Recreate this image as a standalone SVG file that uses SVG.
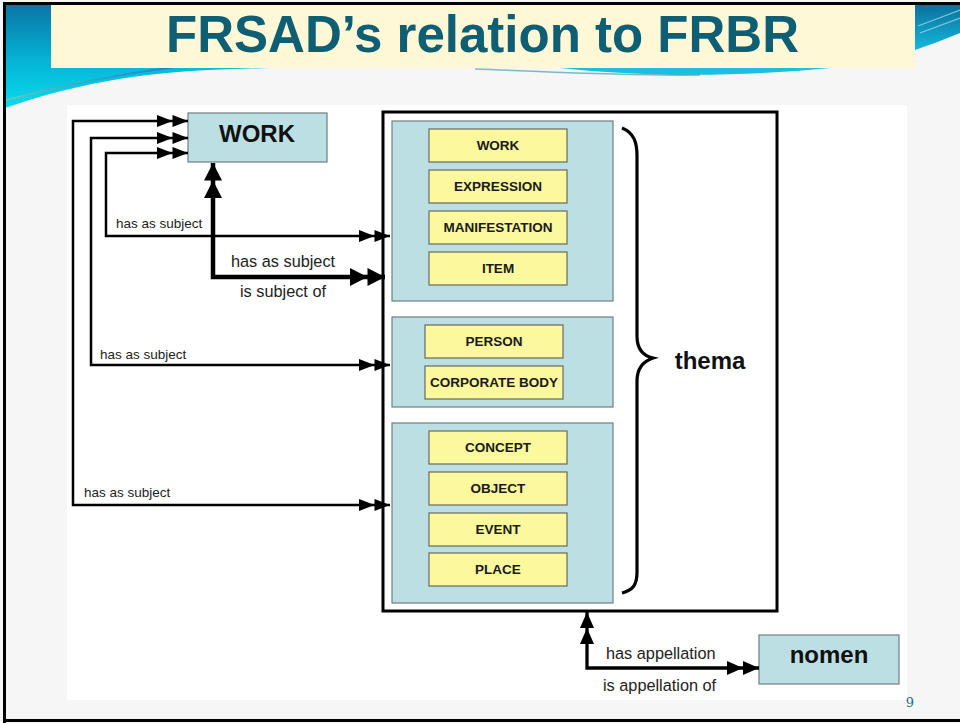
<svg xmlns="http://www.w3.org/2000/svg" width="960" height="723" viewBox="0 0 960 723">
  <style>
    .panel { fill: #bcdfe3; stroke: #6f7f82; stroke-width: 1.2; }
    .entity { fill: #fbf89d; stroke: #6a6a5a; stroke-width: 1.2; }
    .ent-label { font-family: "Liberation Sans", Arial, sans-serif; font-weight: bold; font-size: 13.5px; fill: #1a1a1a; text-anchor: middle; }
    .big-label { font-family: "Liberation Sans", Arial, sans-serif; font-weight: bold; font-size: 24px; fill: #111; text-anchor: middle; }
    .rel-s { font-family: "Liberation Sans", Arial, sans-serif; font-size: 13.5px; fill: #222; }
    .rel-l { font-family: "Liberation Sans", Arial, sans-serif; font-size: 16.3px; fill: #222; }
    .thin { fill: none; stroke: #000; stroke-width: 2.5; stroke-linejoin: miter; }
    .thick { fill: none; stroke: #000; stroke-width: 4.5; stroke-linejoin: miter; }
    .mid { fill: none; stroke: #000; stroke-width: 3.3; stroke-linejoin: miter; }
  </style>
  <defs>
    <linearGradient id="swooshL" x1="0" y1="0" x2="0" y2="1">
      <stop offset="0" stop-color="#0a74a4"/>
      <stop offset="0.55" stop-color="#05b4d6"/>
      <stop offset="1" stop-color="#08dcec"/>
    </linearGradient>
    <linearGradient id="swooshR" x1="0" y1="0" x2="0" y2="1">
      <stop offset="0" stop-color="#0a6f9c"/>
      <stop offset="1" stop-color="#14b9dc"/>
    </linearGradient>
    <linearGradient id="streak" x1="0" y1="0" x2="1" y2="0">
      <stop offset="0" stop-color="#6fc9b8"/>
      <stop offset="0.5" stop-color="#3a9fc8"/>
      <stop offset="1" stop-color="#2a6fc8"/>
    </linearGradient>
    <!-- double arrowheads, sized per line weight -->
    <marker id="dblS" markerUnits="userSpaceOnUse" markerWidth="31" markerHeight="13" viewBox="0 -6.5 31 13" refX="31" refY="0" orient="auto-start-reverse">
      <path d="M0,-6 L15.5,0 L0,6 Z M15.5,-6 L31,0 L15.5,6 Z" fill="#000"/>
    </marker>
    <marker id="dblM" markerUnits="userSpaceOnUse" markerWidth="32" markerHeight="15" viewBox="0 -7.5 32 15" refX="32" refY="0" orient="auto-start-reverse">
      <path d="M0,-7 L16,0 L0,7 Z M16,-7 L32,0 L16,7 Z" fill="#000"/>
    </marker>
    <marker id="dblL" markerUnits="userSpaceOnUse" markerWidth="35" markerHeight="19" viewBox="0 -9.5 35 19" refX="35" refY="0" orient="auto-start-reverse">
      <path d="M0,-9 L17.5,0 L0,9 Z M17.5,-9 L35,0 L17.5,9 Z" fill="#000"/>
    </marker>
  </defs>

  <!-- slide background -->
  <rect x="0" y="0" width="960" height="723" fill="#f6f6f6"/>

  <!-- decorative swooshes -->
  <g id="decor">
    <path d="M5,4 H270 V68 C190,70 110,72 5,108 Z" fill="url(#swooshL)"/>
    <path d="M6,100 C60,86 120,74 175,67" fill="none" stroke="url(#streak)" stroke-width="2.2" opacity="0.8"/>
    <path d="M915,4 H960 V33 C945,39 930,45 915,50 Z" fill="url(#swooshR)"/>
    <path d="M918,26 L960,10 M920,33 L960,18" stroke="#cfeef6" stroke-width="1.2" opacity="0.6"/>
    <path d="M560,68 C640,77 740,77 830,68 Z" fill="#16c2dc"/>
    <path d="M475,69 C540,71 610,76 700,75" fill="none" stroke="#2f8fa4" stroke-width="1.6" opacity="0.6"/>
  </g>

  <!-- title banner -->
  <g id="title">
    <rect x="51" y="4" width="864" height="64" fill="#fff8d7"/>
    <text x="166" y="52" textLength="633" lengthAdjust="spacingAndGlyphs" font-family="'Liberation Sans', Arial, sans-serif" font-weight="bold" font-size="52" fill="#0e5e74">FRSAD’s relation to FRBR</text>
  </g>

  <!-- diagram canvas -->
  <rect x="67" y="105" width="840" height="595" fill="#ffffff"/>

  <!-- thema container -->
  <g id="thema">
    <rect x="383" y="112" width="394" height="499" fill="#ffffff" stroke="#000" stroke-width="3"/>
    <path d="M622,128 C634,133 637,142 637,156 V336 C637,350 644,356 653,358 C644,361 637,367 637,381 V572 C637,585 633,590 622,593" fill="none" stroke="#000" stroke-width="3.2"/>
    <text class="big-label" x="710" y="369">thema</text>
  </g>

  <g id="group-frbr">
    <rect class="panel" x="392" y="121" width="221" height="180"/>
    <g id="e-work"><rect class="entity" x="429" y="129" width="138" height="33"/><text class="ent-label" x="498" y="150">WORK</text></g>
    <g id="e-expression"><rect class="entity" x="429" y="170" width="138" height="33"/><text class="ent-label" x="498" y="191">EXPRESSION</text></g>
    <g id="e-manifestation"><rect class="entity" x="429" y="211" width="138" height="33"/><text class="ent-label" x="498" y="232">MANIFESTATION</text></g>
    <g id="e-item"><rect class="entity" x="429" y="252" width="138" height="33"/><text class="ent-label" x="498" y="273">ITEM</text></g>
  </g>

  <g id="group-agents">
    <rect class="panel" x="392" y="317" width="221" height="90"/>
    <g id="e-person"><rect class="entity" x="425" y="325" width="138" height="33"/><text class="ent-label" x="494" y="346">PERSON</text></g>
    <g id="e-corporate-body"><rect class="entity" x="425" y="366" width="138" height="33"/><text class="ent-label" x="494" y="387">CORPORATE BODY</text></g>
  </g>

  <g id="group-subjects">
    <rect class="panel" x="392" y="423" width="221" height="180"/>
    <g id="e-concept"><rect class="entity" x="429" y="431" width="138" height="33"/><text class="ent-label" x="498" y="452">CONCEPT</text></g>
    <g id="e-object"><rect class="entity" x="429" y="472" width="138" height="33"/><text class="ent-label" x="498" y="493">OBJECT</text></g>
    <g id="e-event"><rect class="entity" x="429" y="513" width="138" height="33"/><text class="ent-label" x="498" y="534">EVENT</text></g>
    <g id="e-place"><rect class="entity" x="429" y="553" width="138" height="33"/><text class="ent-label" x="498" y="574">PLACE</text></g>
  </g>

  <g id="work">
    <rect class="panel" x="188" y="113" width="139" height="49"/>
    <text class="big-label" x="257" y="142">WORK</text>
  </g>

  <g id="nomen">
    <rect class="panel" x="759" y="635" width="140" height="49"/>
    <text class="big-label" x="829" y="663">nomen</text>
  </g>

  <!-- relationships -->
  <g id="connectors">
    <path class="thin" d="M188,121 H73 V505 H390" marker-start="url(#dblS)" marker-end="url(#dblS)"/>
    <path class="thin" d="M188,138 H91 V365 H390" marker-start="url(#dblS)" marker-end="url(#dblS)"/>
    <path class="thin" d="M188,153 H106 V236 H390" marker-start="url(#dblS)" marker-end="url(#dblS)"/>
    <path class="thick" d="M213,163 V277 H385" marker-start="url(#dblL)" marker-end="url(#dblL)"/>
    <path class="mid" d="M587,612 V668 H759" marker-start="url(#dblM)" marker-end="url(#dblM)"/>

    <text class="rel-s" x="116" y="228">has as subject</text>
    <text class="rel-s" x="100" y="359">has as subject</text>
    <text class="rel-s" x="84" y="497">has as subject</text>
    <text class="rel-l" x="231" y="267">has as subject</text>
    <text class="rel-l" x="240" y="297">is subject of</text>
    <text class="rel-l" x="606" y="659">has appellation</text>
    <text class="rel-l" x="603" y="691">is appellation of</text>
  </g>

  <!-- slide number -->
  <text x="910" y="707" font-family="'DejaVu Serif', 'Liberation Serif', serif" font-size="13" fill="#1f6f8b" text-anchor="middle">9</text>

  <!-- slide frame -->
  <path d="M4.5,723 V3.5 H960 M4.5,720.5 H960" fill="none" stroke="#000" stroke-width="3"/>
</svg>
